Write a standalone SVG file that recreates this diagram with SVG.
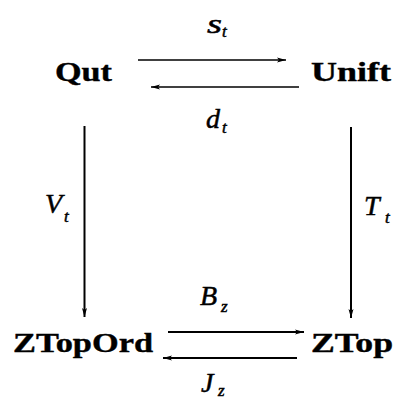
<svg xmlns="http://www.w3.org/2000/svg" width="396" height="402" viewBox="0 0 396 402">
<style>
.node{font-family:"Liberation Serif","DejaVu Serif",serif;font-weight:bold;font-size:28px;fill:#000;stroke:#000;stroke-width:0.4}
.lab{font-family:"Liberation Serif","DejaVu Serif",serif;font-style:italic;font-size:28px;fill:#000;stroke:#000;stroke-width:0.5}
.sub{font-size:17px}
.ln{stroke:#000;stroke-width:1.6;fill:none}
.ln2{stroke:#000;stroke-width:2;fill:none}
</style>
<defs>
<marker id="ah" markerWidth="10" markerHeight="6" refX="9" refY="3" orient="auto" markerUnits="userSpaceOnUse">
<path d="M0,0.5 L9,3 L0,5.5 L2,3 Z" fill="#000"/>
</marker>
</defs>
<rect width="396" height="402" fill="#fff"/>
<g id="Qut"><text class="node" x="55" y="81" textLength="57" lengthAdjust="spacingAndGlyphs">Qut</text></g>
<g id="Unift"><text class="node" x="311" y="81" textLength="80" lengthAdjust="spacingAndGlyphs">Unift</text></g>
<g id="ZTopOrd"><text class="node" x="13" y="352" textLength="140" lengthAdjust="spacingAndGlyphs">ZTopOrd</text></g>
<g id="ZTop"><text class="node" x="311" y="352" textLength="82" lengthAdjust="spacingAndGlyphs">ZTop</text></g>
<g id="connectors">
<line class="ln" x1="138" y1="60" x2="286" y2="60" marker-end="url(#ah)"/>
<line class="ln" x1="299" y1="87" x2="151" y2="87" marker-end="url(#ah)"/>
<line class="ln2" x1="84.5" y1="126" x2="84.5" y2="317" marker-end="url(#ah)"/>
<line class="ln2" x1="351" y1="127" x2="351" y2="318" marker-end="url(#ah)"/>
<line class="ln2" x1="168" y1="332" x2="304" y2="332" marker-end="url(#ah)"/>
<line class="ln2" x1="297" y1="358" x2="163" y2="358" marker-end="url(#ah)"/>
<text class="lab" x="207" y="33" textLength="15" lengthAdjust="spacingAndGlyphs">s</text><text class="lab sub" x="222" y="37">t</text>
<text class="lab" x="206" y="128">d</text><text class="lab sub" x="222" y="133">t</text>
<text class="lab" x="45" y="213">V</text><text class="lab sub" x="64" y="222">t</text>
<text class="lab" x="364" y="215">T</text><text class="lab sub" x="385" y="223">t</text>
<text class="lab" x="200" y="305">B</text><text class="lab sub" x="221" y="312">z</text>
<text class="lab" x="201" y="392">J</text><text class="lab sub" x="218" y="396">z</text>
</g>
</svg>
